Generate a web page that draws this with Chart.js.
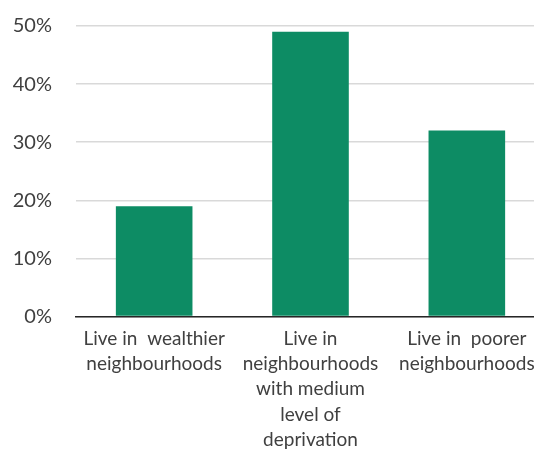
<!DOCTYPE html>
<html>
<head>
<meta charset="utf-8">
<script src="https://cdn.jsdelivr.net/npm/chart.js@4"></script>
<style>
  html, body { margin: 0; padding: 0; background: #fff; overflow: hidden; }
  #wrap { width: 546px; height: 462px; }
</style>
</head>
<body>
<div id="wrap"><canvas id="chart"></canvas></div>
<script>
const categories = [
  ['Live in  wealthier', 'neighbourhoods'],
  ['Live in', 'neighbourhoods', 'with medium', 'level of', 'deprivation'],
  ['Live in  poorer', 'neighbourhoods']
];
const shares = [19, 49, 32];
const yTicks = [0, 10, 20, 30, 40, 50];

const ctx = document.getElementById('chart').getContext('2d');
new Chart(ctx, {
  type: 'bar',
  data: {
    labels: categories,
    datasets: [{
      data: shares,
      backgroundColor: '#0d8c64',
      borderWidth: 0,
      categoryPercentage: 1,
      barPercentage: 0.49
    }]
  },
  options: {
    responsive: true,
    maintainAspectRatio: false,
    animation: false,
    layout: { padding: { top: 26, right: 1, left: 12, bottom: 0 } },
    plugins: {
      legend: { display: false },
      tooltip: { enabled: false }
    },
    scales: {
      y: {
        min: 0,
        max: 50,
        afterBuildTicks: axis => { axis.ticks = yTicks.map(v => ({ value: v })); },
        afterFit: axis => { axis.paddingTop = 0; axis.paddingBottom = 0; axis.width = 64; },
        grid: { color: '#d9d9d9', lineWidth: 1.5, drawTicks: false },
        border: { display: false },
        ticks: {
          padding: 24,
          color: '#404040',
          font: { family: 'Lato', size: 20 },
          callback: v => v + '%'
        }
      },
      x: {
        grid: { display: false, drawTicks: false },
        border: { display: true, color: '#262626', width: 1.5 },
        afterFit: axis => { axis.paddingLeft = 0; axis.paddingRight = 0; },
        ticks: {
          padding: 10,
          maxRotation: 0,
          autoSkip: false,
          color: '#404040',
          font: { family: 'Lato', size: 19, lineHeight: 1.32 }
        }
      }
    }
  }
});
</script>
</body>
</html>
